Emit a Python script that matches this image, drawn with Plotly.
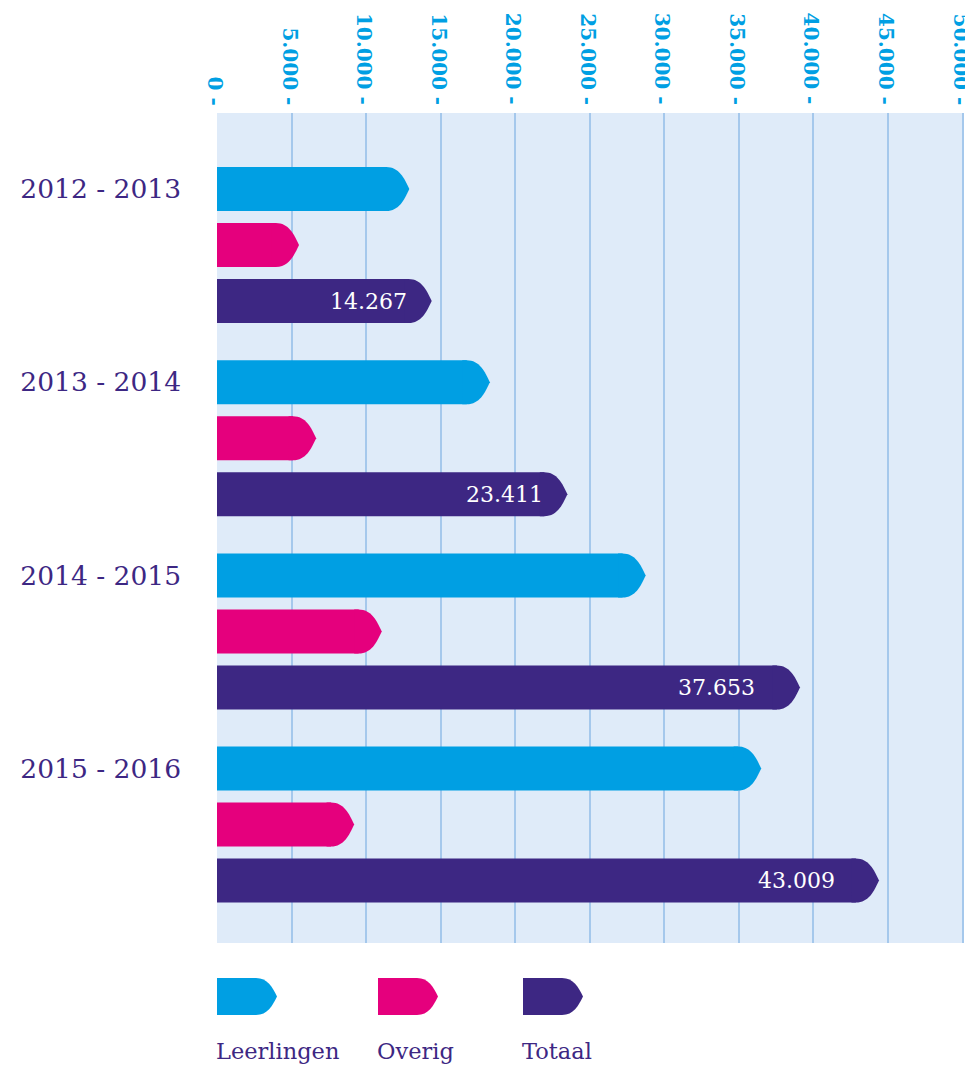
import plotly.graph_objects as go

# ---------------- data ----------------
periods = ["2012 - 2013", "2013 - 2014", "2014 - 2015", "2015 - 2016"]
series_names = ["Leerlingen", "Overig", "Totaal"]
leerlingen = [12900, 18300, 28750, 36500]
overig = [5500, 6650, 11050, 9200]
totaal = [14400, 23500, 39100, 44400]
totaal_label_values = [14267, 23411, 37653, 43009]
totaal_labels = ["14.267", "23.411", "37.653", "43.009"]
tick_values = [0, 5000, 10000, 15000, 20000, 25000, 30000, 35000, 40000, 45000, 50000]
tick_labels = ["0 -", "5.000 -", "10.000 -", "15.000 -", "20.000 -", "25.000 -",
               "30.000 -", "35.000 -", "40.000 -", "45.000 -", "50.000 -"]

# ---------------- style ----------------
colors = ["#009fe3", "#e5007d", "#3d2783"]
PURPLE = "#3d2783"
CYAN = "#009fe3"
FONT = "DejaVu Serif"
GROUP = 3.45      # slot distance between period groups
HALF = 0.393      # half bar thickness (in slots)
TIP = 1550        # length of the pointed tip (axis units)

OFF = 8           # browser's default body margin
W, H = 973 - OFF, 1065 - OFF
ML, MR, MT, MB = 217 - OFF, 9, 113 - OFF, 122
PW, PH = W - ML - MR, H - MT - MB


def tip_path(x_end, yc, half, tip, x_start):
    xt = x_end - tip
    top, bot = yc - half, yc + half
    return (f"M {x_start},{top} L {xt},{top} "
            f"C {xt + 0.55 * tip},{top} {x_end - 0.22 * tip},{yc - 0.5 * half} {x_end},{yc} "
            f"C {x_end - 0.22 * tip},{yc + 0.5 * half} {xt + 0.55 * tip},{bot} {xt},{bot} "
            f"L {x_start},{bot} Z")


fig = go.Figure()
shapes = []
for s, (name, vals, col) in enumerate(zip(series_names, [leerlingen, overig, totaal], colors)):
    ys = [g * GROUP + s for g in range(len(periods))]
    fig.add_trace(go.Bar(
        x=[v - TIP for v in vals], y=ys, orientation="h", width=2 * HALF,
        marker=dict(color=col, line=dict(width=0)), name=name, showlegend=False,
        hoverinfo="skip"))
    for v, y in zip(vals, ys):
        shapes.append(dict(type="path", xref="x", yref="y",
                           path=tip_path(v, y, HALF, TIP, v - TIP - 300),
                           fillcolor=col, line=dict(width=0), layer="above"))

annotations = []
for v, lab, g in zip(totaal_label_values, totaal_labels, range(len(periods))):
    annotations.append(dict(x=v, y=g * GROUP + 2, xref="x", yref="y", text=lab,
                            showarrow=False, xanchor="right", yanchor="middle",
                            xshift=-21, font=dict(family=FONT, size=22, color="white")))

# value axis labels (rotated, above the plot)
for tv, tl in zip(tick_values, tick_labels):
    annotations.append(dict(x=tv, y=1, xref="x", yref="paper", text=tl, textangle=90,
                            showarrow=False, xanchor="center", yanchor="bottom",
                            xshift=-2, yshift=6,
                            font=dict(family=FONT, size=20, color=CYAN, weight="bold")))

# legend (custom, below the plot); positions given in screenshot pixels
def px_x(p):
    return (p - OFF - ML) / PW

def px_y(p):
    return (H - MB - (p - OFF)) / PH

legend_x = [217, 378, 523]
for name, col, lx in zip(series_names, colors, legend_x):
    x0, x1 = px_x(lx), px_x(lx + 60)
    tipw = 21 / PW
    yc = px_y(996.5)
    half = 18.5 / PH
    shapes.append(dict(type="path", xref="paper", yref="paper",
                       path=tip_path(x1, yc, half, tipw, x0),
                       fillcolor=col, line=dict(width=0), layer="above"))
    annotations.append(dict(x=px_x(lx - 3), y=px_y(1051), xref="paper", yref="paper",
                            text=name, showarrow=False, xanchor="left", yanchor="middle",
                            font=dict(family=FONT, size=22.5, color=PURPLE)))

fig.update_layout(
    width=W, height=H,
    margin=dict(l=ML, r=MR, t=MT, b=MB, pad=0, autoexpand=False),
    paper_bgcolor="white", plot_bgcolor="#dfebf9",
    barmode="overlay",
    shapes=shapes, annotations=annotations,
    showlegend=False,
    xaxis=dict(side="top", range=[0, 50100], tickmode="array", automargin=False,
               tickvals=tick_values, showticklabels=False,
               showgrid=True, gridcolor="#a5c8ec", gridwidth=2,
               zeroline=False, showline=False, ticks=""),
    yaxis=dict(range=[(H - MB - (MT + 76)) / 56, -76 / 56], tickmode="array",
               automargin=False,
               tickvals=[g * GROUP for g in range(len(periods))], ticktext=periods,
               tickfont=dict(family=FONT, size=26.5, color=PURPLE),
               showgrid=False, zeroline=False, showline=False, ticks="",
               ticklabelstandoff=35),
)

fig.write_html("out.html")
